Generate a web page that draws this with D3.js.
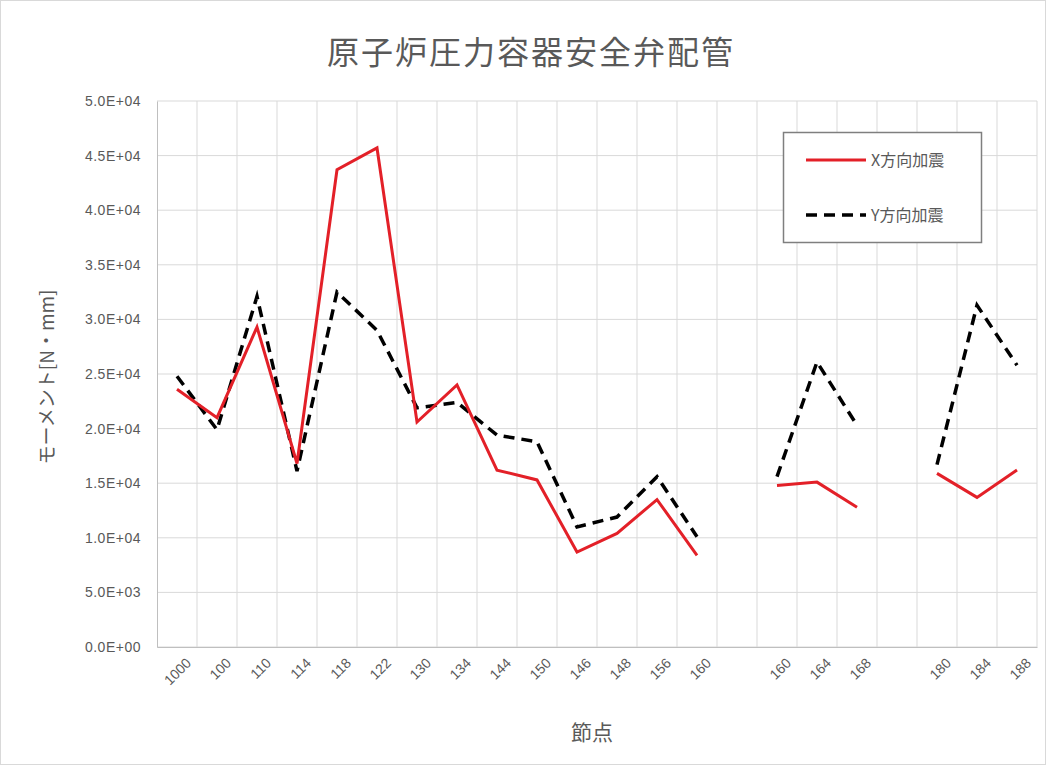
<!DOCTYPE html>
<html><head><meta charset="utf-8">
<script src="https://cdn.jsdelivr.net/npm/d3@7/dist/d3.min.js"></script>
<style>body{margin:0;background:#fff;} svg{display:block;font-family:"Noto Sans CJK JP","Noto Sans",sans-serif;}</style>
</head><body>
<svg id="c" width="1046" height="765"></svg>
<script>
const title = "原子炉圧力容器安全弁配管";
const xTitle = "節点";
const yTitle = "モーメント[N・mm]";
const nodeLabels = ["1000","100","110","114","118","122","130","134","144","150","146","148","156","160","","160","164","168","","180","184","188"];
const seriesNames = ["X方向加震","Y方向加震"];
const xValues = [23600,21000,29300,16800,43700,45700,20600,24000,16200,15300,8700,10400,13500,8400,null,14800,15100,12800,null,15900,13700,16200];
const yValues = [24800,19900,32100,16100,32500,29000,21900,22400,19400,18800,11000,11900,15600,10100,null,15600,26100,20300,null,16700,31300,25800];
const yTicks = [0,5000,10000,15000,20000,25000,30000,35000,40000,45000,50000];

const svg = d3.select("#c");
const W = 1046, H = 765;
const m = {left:157, right:1037, top:101, bottom:647};

svg.append("rect").attr("x",0.5).attr("y",0.5).attr("width",W-1).attr("height",H-1)
  .attr("fill","#fff").attr("stroke","#d9d9d9");

const idx = nodeLabels.map((d,i)=>i);
const x = d3.scaleBand().domain(idx).range([m.left,m.right]);
const y = d3.scaleLinear().domain([0,50000]).range([m.bottom,m.top]);

// gridlines
svg.append("g").selectAll("line").data(yTicks).join("line")
  .attr("x1",m.left).attr("x2",m.right).attr("y1",d=>y(d)).attr("y2",d=>y(d))
  .attr("stroke","#d9d9d9").attr("stroke-width",1);
svg.append("g").selectAll("line").data(idx.slice(1).concat([idx.length])).join("line")
  .attr("x1",d=>m.left+d*x.step()).attr("x2",d=>m.left+d*x.step())
  .attr("y1",m.top).attr("y2",m.bottom)
  .attr("stroke","#d9d9d9").attr("stroke-width",1);

// y axis
const ya = svg.append("g").attr("transform",`translate(${m.left},0)`)
  .call(d3.axisLeft(y).tickValues(yTicks).tickSize(0).tickPadding(16)
    .tickFormat(d=>d3.format(".1e")(d).toUpperCase().replace("E+","E+0")));
ya.select(".domain").attr("stroke","#bfbfbf");
ya.selectAll("text").attr("fill","#595959").attr("font-size",14).attr("letter-spacing","0.5px");

// x axis
const xa = svg.append("g").attr("transform",`translate(0,${m.bottom})`)
  .call(d3.axisBottom(x).tickSize(0).tickPadding(10).tickFormat(i=>nodeLabels[i]));
xa.select(".domain").attr("stroke","#bfbfbf");
xa.selectAll("text").attr("fill","#595959").attr("font-size",14)
  .attr("text-anchor","end").attr("dx","-0.1em").attr("dy","0.9em")
  .attr("transform","rotate(-45)");

// lines
const line = d3.line().defined(d=>d!=null).x((d,i)=>x(i)+x.bandwidth()/2).y(d=>y(d));
svg.append("path").datum(yValues).attr("d",line).attr("fill","none")
  .attr("stroke","#000").attr("stroke-width",3.5).attr("stroke-dasharray","11,7");
svg.append("path").datum(xValues).attr("d",line).attr("fill","none")
  .attr("stroke","#e32028").attr("stroke-width",3).attr("stroke-linejoin","miter");

// title
svg.append("text").attr("x",531).attr("y",64).attr("text-anchor","middle")
  .attr("font-size",32).attr("letter-spacing","2px").attr("fill","#595959").text(title);
svg.append("text").attr("x",592).attr("y",740).attr("text-anchor","middle")
  .attr("font-size",21).attr("fill","#595959").text(xTitle);
svg.append("text").attr("transform","translate(54,377) rotate(-90)").attr("text-anchor","middle")
  .attr("font-size",19).attr("fill","#595959").text(yTitle);

// legend
const lg = svg.append("g");
lg.append("rect").attr("x",783.5).attr("y",132.5).attr("width",198).attr("height",110)
  .attr("fill","#fff").attr("stroke","#7f7f7f").attr("stroke-width",1.5);
const items = [{name:seriesNames[0],color:"#e32028",dash:null,w:3},{name:seriesNames[1],color:"#000",dash:"11,7",w:3.5}];
items.forEach((it,i)=>{
  const yy = 160 + i*55;
  lg.append("line").attr("x1",806).attr("x2",866).attr("y1",yy).attr("y2",yy)
    .attr("stroke",it.color).attr("stroke-width",it.w).attr("stroke-dasharray",it.dash);
  lg.append("text").attr("x",871).attr("y",yy+6).attr("font-size",16).attr("fill","#595959").text(it.name);
});
</script>
</body></html>
